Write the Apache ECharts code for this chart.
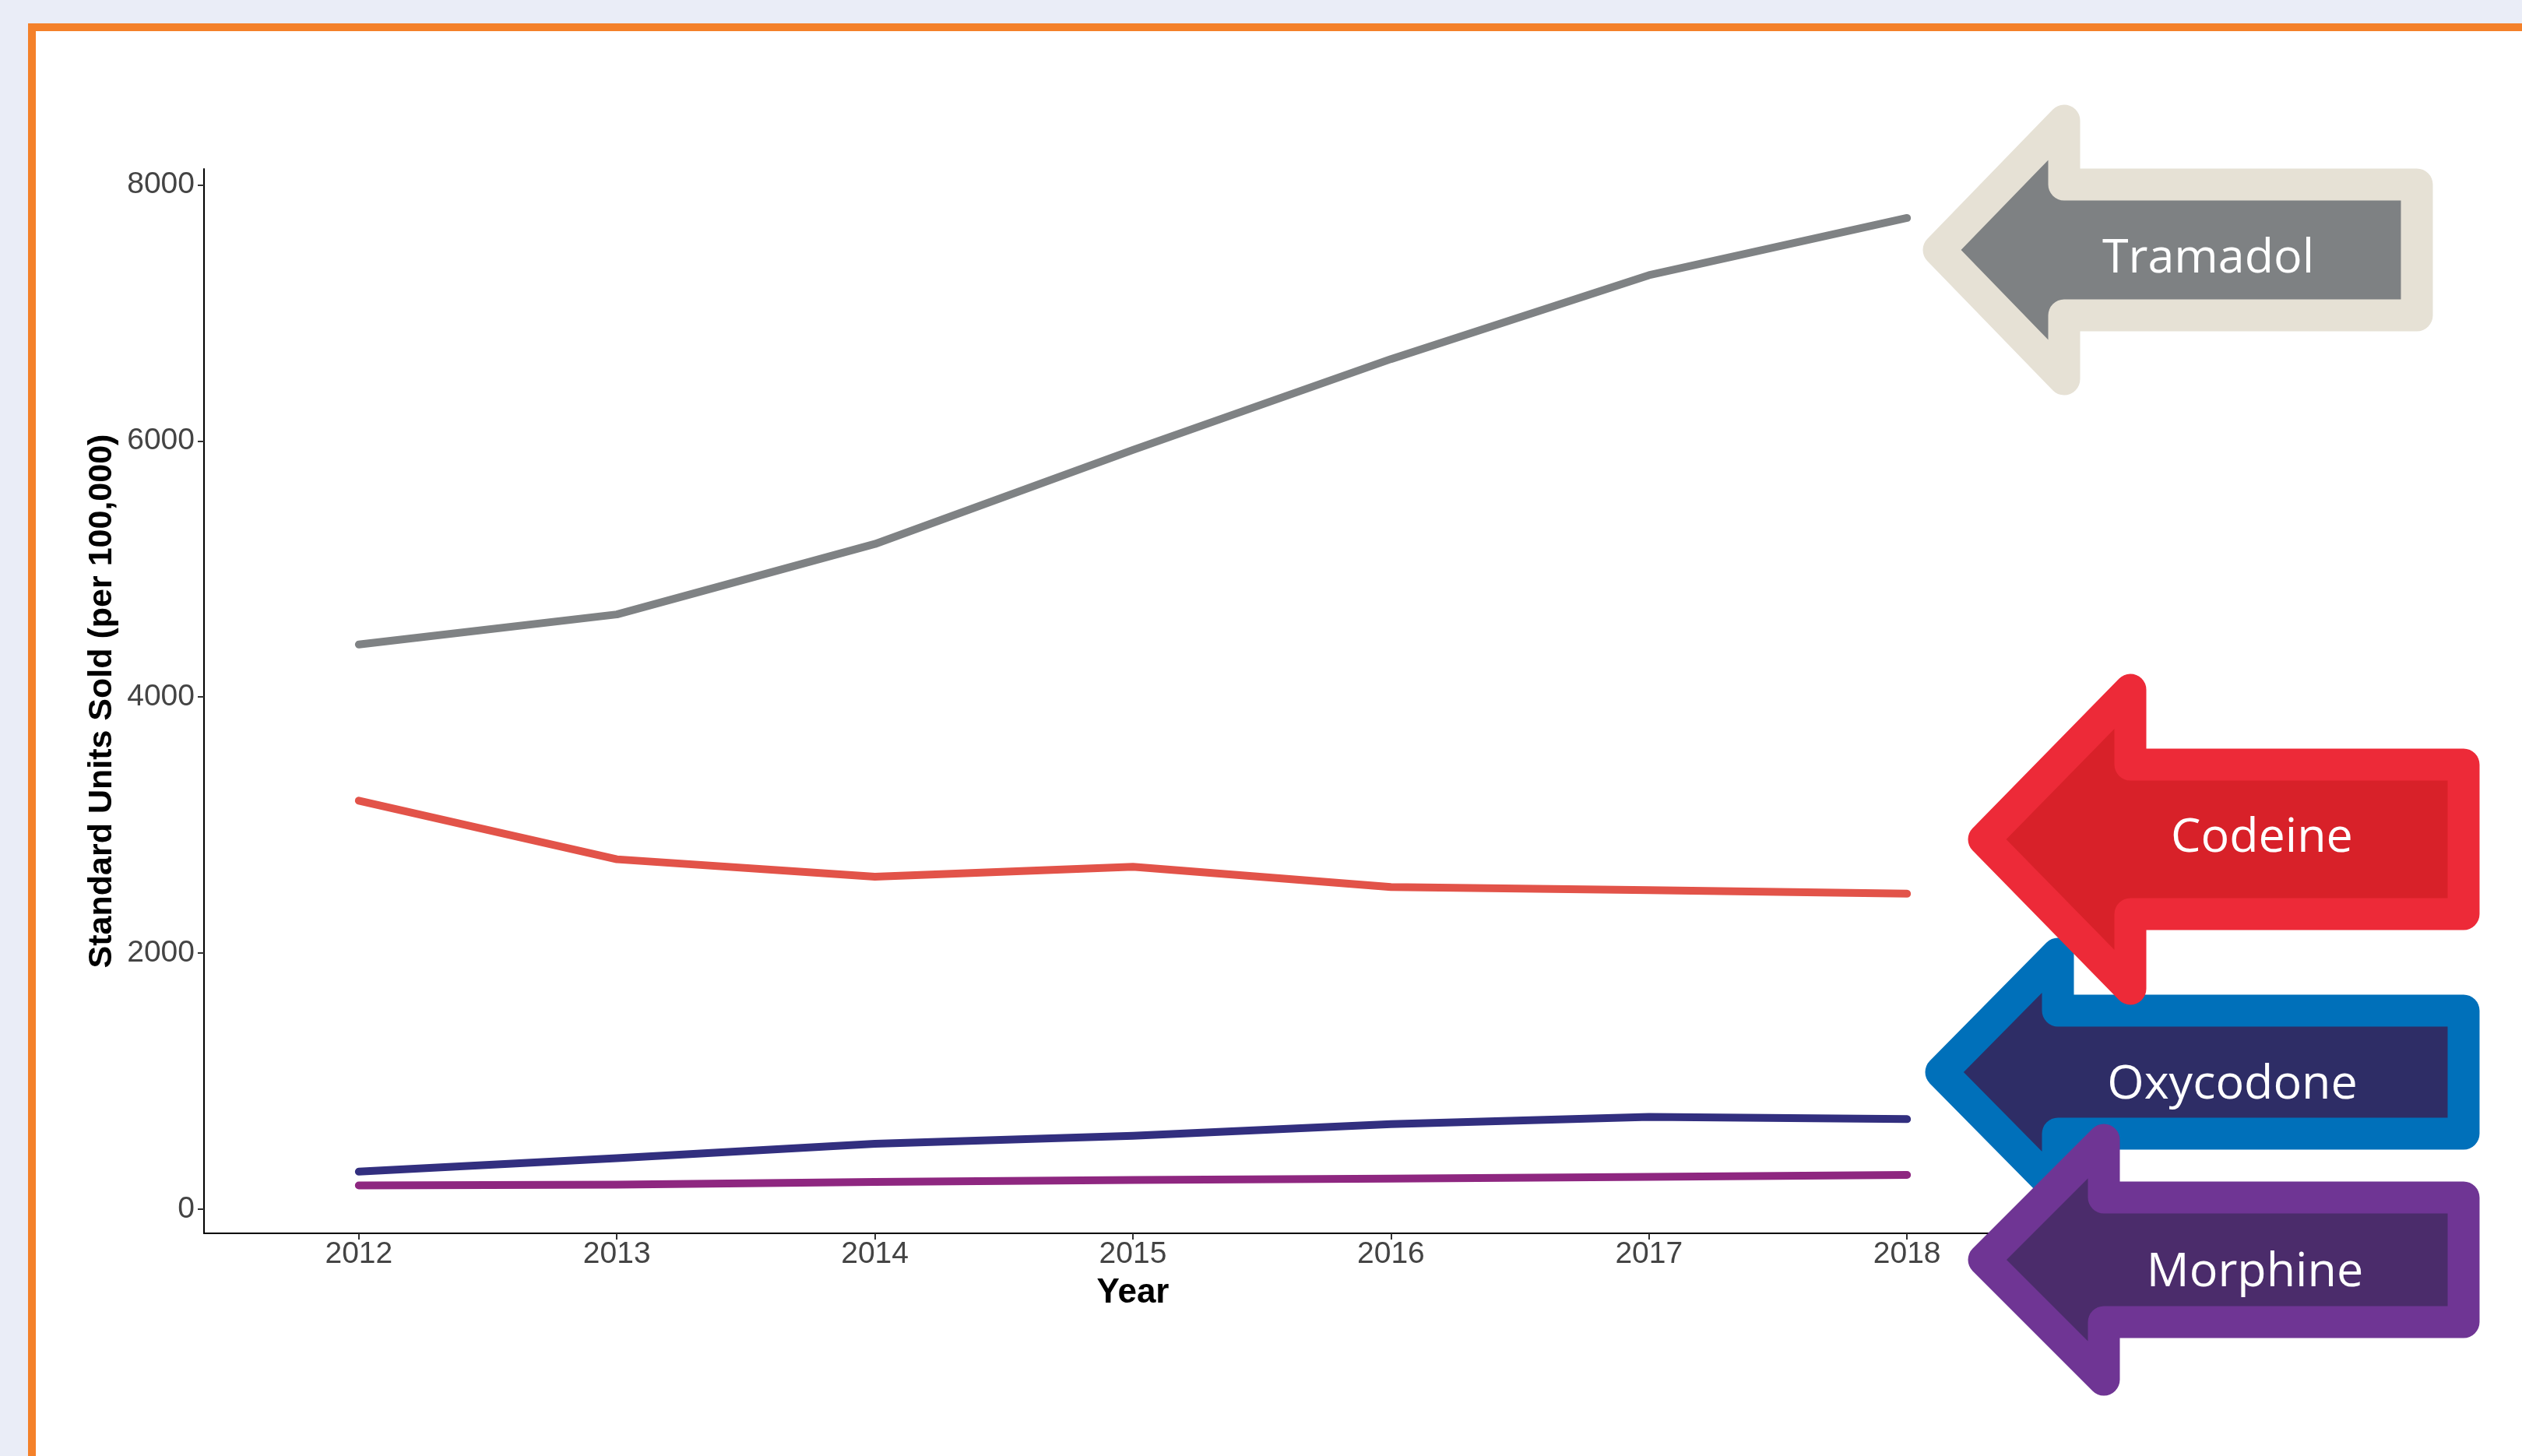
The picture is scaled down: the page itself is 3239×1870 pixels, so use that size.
<!DOCTYPE html>
<html>
<head>
<meta charset="utf-8">
<title>Standard Units Sold</title>
<script src="https://cdn.jsdelivr.net/npm/echarts@6/dist/echarts.min.js"></script>
<style>
html, body { margin: 0; padding: 0; width: 3239px; height: 1870px; overflow: hidden; background: #EAEDF7; }
#frame { position: absolute; left: 36px; top: 30px; width: 3400px; height: 2000px; background: #fff;
  border-left: 10px solid #F4812A; border-top: 10px solid #F4812A; }
#chart { position: absolute; left: 0; top: 0; width: 3239px; height: 1870px; }
</style>
</head>
<body>
<div id="frame"></div>
<div id="chart"></div>
<script>
var years = [2012, 2013, 2014, 2015, 2016, 2017, 2018];
var tramadol = [4410, 4645, 5195, 5930, 6640, 7295, 7742];
var codeine = [3190, 2732, 2596, 2673, 2515, 2491, 2463];
var oxycodone = [292, 397, 509, 572, 663, 719, 702];
var morphine = [184, 190, 212, 227, 237, 251, 266];
var yTicks = [0, 2000, 4000, 6000, 8000];

// arrow labels on the right: outline colour, fill colour, shape sizes
var arrows = [
	{ name: 'Tramadol', stroke: '#E6E1D5', fill: '#7E8183', tipX: 2490, headX: 2651, rightX: 3104, cy: 321, headH: 166, shaftH: 84, textX: 2836, textY: 333 },
	{ name: 'Oxycodone', stroke: '#0070BA', fill: '#2E2D66', tipX: 2493, headX: 2643, rightX: 3164, cy: 1377, headH: 152, shaftH: 79, textX: 2867, textY: 1394 },
	{ name: 'Codeine', stroke: '#ED2A38', fill: '#D82129', tipX: 2548, headX: 2736, rightX: 3164, cy: 1078, headH: 192, shaftH: 96, textX: 2905, textY: 1077 },
	{ name: 'Morphine', stroke: '#6F3594', fill: '#4B2C6B', tipX: 2548, headX: 2702, rightX: 3164, cy: 1618, headH: 154, shaftH: 80, textX: 2896, textY: 1635 }
];

function pairs(vals) {
	var out = [];
	for (var i = 0; i < years.length; i++) {
		out.push([years[i], vals[i]]);
	}
	return out;
}

function lineSeries(name, vals, color) {
	return {
		name: name,
		type: 'line',
		symbol: 'none',
		data: pairs(vals),
		lineStyle: { color: color, width: 10, cap: 'round', join: 'round' },
		z: 3
	};
}

function arrowGraphics() {
	var g = [];
	for (var i = 0; i < arrows.length; i++) {
		var a = arrows[i];
		g.push({
			type: 'polygon',
			z: 100 + i * 2,
			shape: {
				points: [
					[a.tipX, a.cy],
					[a.headX, a.cy - a.headH],
					[a.headX, a.cy - a.shaftH],
					[a.rightX, a.cy - a.shaftH],
					[a.rightX, a.cy + a.shaftH],
					[a.headX, a.cy + a.shaftH],
					[a.headX, a.cy + a.headH]
				]
			},
			style: { fill: a.fill, stroke: a.stroke, lineWidth: 41, lineJoin: 'round' }
		});
		g.push({
			type: 'text',
			z: 101 + i * 2,
			style: {
				text: a.name,
				x: a.textX,
				y: a.textY,
				fill: '#fff',
				fontSize: 61,
				fontFamily: 'Open Sans',
				align: 'center',
				verticalAlign: 'middle',
				textAlign: 'center',
				textVerticalAlign: 'middle'
			}
		});
	}
	return g;
}

var chart = echarts.init(document.getElementById('chart'));
var option = {
	animation: false,
	backgroundColor: 'transparent',
	grid: { left: 262, top: 217, width: 2386, height: 1367, containLabel: false },
	xAxis: {
		type: 'value',
		min: 2011.4,
		max: 2018.6,
		name: 'Year',
		nameLocation: 'middle',
		nameGap: 55,
		nameTextStyle: { fontFamily: 'Liberation Sans', fontSize: 44, fontWeight: 'bold', color: '#000' },
		splitLine: { show: false },
		axisLine: { onZero: false, lineStyle: { color: '#000', width: 2 } },
		axisTick: { customValues: years, length: 8, lineStyle: { color: '#333', width: 2 } },
		axisLabel: {
			customValues: years,
			margin: 8,
			fontFamily: 'Liberation Sans',
			fontSize: 39,
			color: '#444',
			formatter: function(v) { return String(v); }
		}
	},
	yAxis: {
		type: 'value',
		min: -190,
		max: 8125,
		name: 'Standard Units Sold (per 100,000)',
		nameLocation: 'middle',
		nameRotate: 90,
		nameGap: 103,
		nameTextStyle: { fontFamily: 'Liberation Sans', fontSize: 43, fontWeight: 'bold', color: '#000' },
		splitLine: { show: false },
		axisLine: { show: true, onZero: false, lineStyle: { color: '#000', width: 2 } },
		axisTick: { show: true, customValues: yTicks, length: 8, lineStyle: { color: '#333', width: 2 } },
		axisLabel: {
			customValues: yTicks,
			margin: 12,
			fontFamily: 'Liberation Sans',
			fontSize: 39,
			color: '#444',
			formatter: function(v) { return String(v); }
		}
	},
	series: [
		lineSeries('Tramadol', tramadol, '#7F8284'),
		lineSeries('Codeine', codeine, '#E25349'),
		lineSeries('Oxycodone', oxycodone, '#322F7F'),
		lineSeries('Morphine', morphine, '#8E2780')
	],
	graphic: arrowGraphics()
};
chart.setOption(option);
</script>
</body>
</html>
